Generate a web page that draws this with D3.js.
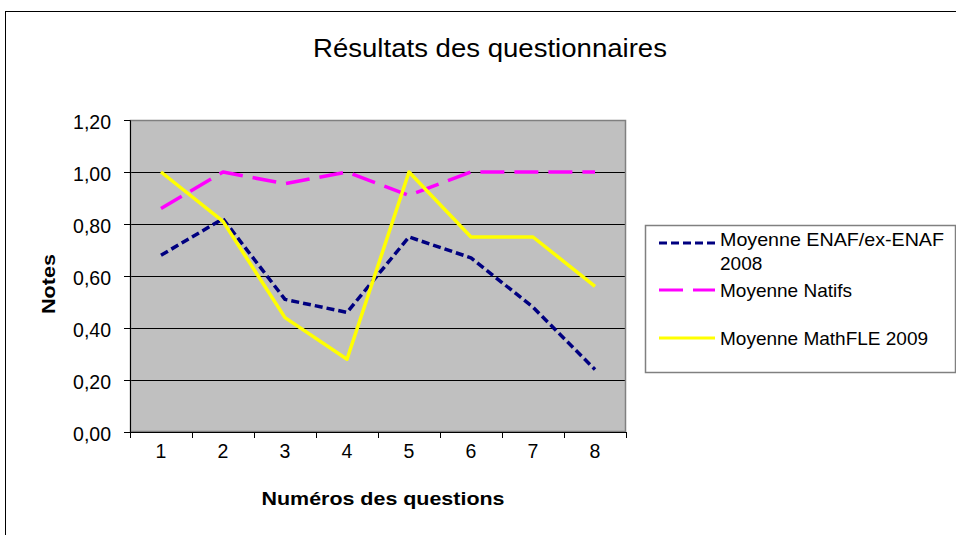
<!DOCTYPE html>
<html><head><meta charset="utf-8">
<script src="https://cdn.jsdelivr.net/npm/d3@7"></script>
<style>body{margin:0;background:#fff}svg{display:block}text{font-family:"Liberation Sans",Arial,sans-serif}</style>
</head><body>
<svg id="c" width="956" height="535"></svg>
<script>
const categories = ["1","2","3","4","5","6","7","8"];
const enaf = [0.68, 0.82, 0.51, 0.46, 0.75, 0.67, 0.48, 0.24];
const natifs = [0.86, 1.00, 0.955, 1.00, 0.91, 1.00, 1.00, 1.00];
const mathfle = [1.00, 0.81, 0.44, 0.28, 1.00, 0.75, 0.75, 0.56];
const yTicks = [0, 0.2, 0.4, 0.6, 0.8, 1.0, 1.2];
const seriesNames = ["Moyenne ENAF/ex-ENAF 2008", "Moyenne Natifs", "Moyenne MathFLE 2009"];

const svg = d3.select("#c");
const L = 130, R = 626, T = 120, B = 432;

svg.append("rect").attr("x",5.5).attr("y",11.5).attr("width",960).attr("height",540)
  .attr("fill","#fff").attr("stroke","#000").attr("stroke-width",1);

svg.append("text").attr("x",490).attr("y",57).attr("text-anchor","middle")
  .attr("font-size",25).attr("textLength",354).attr("lengthAdjust","spacingAndGlyphs")
  .text("Résultats des questionnaires");

const x = d3.scaleBand().domain(categories).range([L,R]);
const y = d3.scaleLinear().domain([0,1.2]).range([B,T]);

svg.append("rect").attr("x",L).attr("y",T).attr("width",R-L).attr("height",B-T).attr("fill","#c0c0c0");

svg.append("g").selectAll("line").data(yTicks.slice(1,6)).join("line")
  .attr("x1",L).attr("x2",R).attr("y1",d=>Math.round(y(d))+0.5).attr("y2",d=>Math.round(y(d))+0.5)
  .attr("stroke","#000").attr("stroke-width",1);

svg.append("rect").attr("x",L+0.5).attr("y",T+0.5).attr("width",R-L-1).attr("height",B-T-1)
  .attr("fill","none").attr("stroke","#808080").attr("stroke-width",1.5);

const yAxis = svg.append("g").attr("transform",`translate(${L},0)`)
  .call(d3.axisLeft(y).tickValues(yTicks).tickSize(6).tickPadding(13)
    .tickFormat(d=>d3.format(".2f")(d).replace(".",",")));
yAxis.select(".domain").attr("stroke","#000");
yAxis.selectAll("text").attr("font-size",19.5).attr("fill","#000").attr("font-family","Liberation Sans, Arial, sans-serif").attr("dy","0.42em");

const xAxis = svg.append("g").attr("transform",`translate(0,${B})`)
  .call(d3.axisBottom(x).tickSize(0).tickPadding(26));
xAxis.select(".domain").attr("stroke","#000");
xAxis.selectAll("text").attr("font-size",19.5).attr("fill","#000").attr("font-family","Liberation Sans, Arial, sans-serif").attr("dy","0");
const bounds = categories.map(c=>x(c)).concat([R]);
svg.append("g").selectAll("line").data(bounds).join("line")
  .attr("x1",d=>Math.round(d)+0.5).attr("x2",d=>Math.round(d)+0.5).attr("y1",B).attr("y2",B+6).attr("stroke","#000");

svg.append("text").attr("x",383).attr("y",505).attr("text-anchor","middle")
  .attr("font-size",18.5).attr("font-weight","bold").attr("textLength",243).attr("lengthAdjust","spacingAndGlyphs")
  .text("Numéros des questions");
svg.append("text").attr("transform","translate(55,284) rotate(-90)").attr("text-anchor","middle")
  .attr("font-size",19).attr("font-weight","bold").attr("textLength",60).attr("lengthAdjust","spacingAndGlyphs").text("Notes");

const line = d3.line().x((d,i)=>x(categories[i])+x.bandwidth()/2).y(d=>y(d));
const styles = [
  {data:enaf, color:"#000080", dash:"8,4"},
  {data:natifs, color:"#ff00ff", dash:"24,10"},
  {data:mathfle, color:"#ffff00", dash:null}
];
styles.forEach(s=>{
  svg.append("path").attr("d",line(s.data)).attr("fill","none").attr("stroke",s.color)
    .attr("stroke-width",3.5).attr("stroke-dasharray",s.dash).attr("stroke-linejoin","round");
});

// Legend
const lg = svg.append("g");
lg.append("rect").attr("x",645.5).attr("y",225.5).attr("width",310).attr("height",147)
  .attr("fill","#fff").attr("stroke","#808080").attr("stroke-width",1.5);
const legY = [243, 290, 338];
styles.forEach((s,i)=>{
  lg.append("line").attr("x1",659).attr("x2",715).attr("y1",legY[i]).attr("y2",legY[i])
    .attr("stroke",s.color).attr("stroke-width",3).attr("stroke-dasharray",s.dash);
});
const t0 = lg.append("text").attr("font-size",19).attr("fill","#000");
t0.append("tspan").attr("x",720).attr("y",246).attr("textLength",224).attr("lengthAdjust","spacingAndGlyphs").text("Moyenne ENAF/ex-ENAF");
t0.append("tspan").attr("x",720).attr("y",270).text("2008");
lg.append("text").attr("x",720).attr("y",297).attr("font-size",19).text(seriesNames[1]);
lg.append("text").attr("x",720).attr("y",345).attr("font-size",19).text(seriesNames[2]);
</script>
</body></html>
